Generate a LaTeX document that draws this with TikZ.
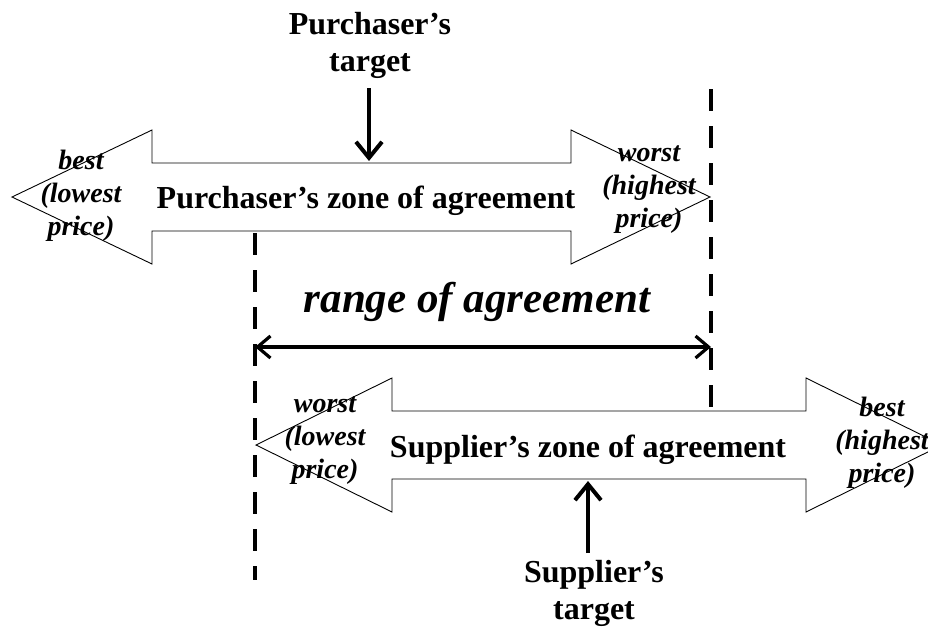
\documentclass[tikz,border=0pt]{standalone}
\usepackage{fontspec}
\setmainfont{Liberation Serif}
\usetikzlibrary{arrows.meta}
\begin{document}
\begin{tikzpicture}[x=1pt,y=-1pt,
  zone/.style={draw=black,fill=white,line width=0.9pt,line join=miter},
  zonelabel/.style={font=\fontsize{32}{36}\selectfont\bfseries,anchor=base,inner sep=0pt},
  endlabel/.style={font=\fontsize{28}{33}\selectfont\bfseries\itshape,align=center,inner sep=0pt},
  targetlabel/.style={font=\fontsize{32}{37}\selectfont\bfseries,align=center,inner sep=0pt},
  limit/.style={line width=4.5pt,dash pattern=on 22pt off 15pt},
  targetarrow/.style={line width=4pt,-{Straight Barb[length=16pt,width=26pt,line width=4pt]}},
  rangearrow/.style={line width=3.2pt,{Straight Barb[length=13pt,width=22pt,line width=3.2pt]}-{Straight Barb[length=13pt,width=22pt,line width=3.2pt]}}]
\useasboundingbox (0,0) rectangle (928,629);
\clip (0,0) rectangle (928,629);
\fill[white] (0,0) rectangle (928,629);

% purchaser's zone (double arrow)
\draw[zone] (12,197) -- (152,130) -- (152,163) -- (571,163) -- (571,130) -- (710,197)
  -- (571,264) -- (571,231) -- (152,231) -- (152,264) -- cycle;
% supplier's zone (double arrow)
\draw[zone] (256,445) -- (392,378) -- (392,411) -- (806,411) -- (806,378) -- (942,445)
  -- (806,512) -- (806,479) -- (392,479) -- (392,512) -- cycle;

% limits of the range
\coordinate (rtop) at (711,89);
\coordinate (rbot) at (711,413);
\coordinate (ltop) at (255,233);
\coordinate (lbot) at (255,580);
\draw[limit] (rtop) -- (rbot);
\draw[limit] (ltop) -- (lbot);

% labels inside the zones
\node[zonelabel] (pzone) at (366,208) {Purchaser’s zone of agreement};
\node[zonelabel] (szone) at (588,457) {Supplier’s zone of agreement};
\node[endlabel] (pbest) at (81,196) {best\\(lowest\\price)};
\node[endlabel] (pworst) at (649,190) {worst\\(highest\\price)};
\node[endlabel] (sworst) at (325,441) {worst\\(lowest\\price)};
\node[endlabel] (sbest) at (882,443) {best\\(highest\\price)};

% range of agreement
\node[font=\fontsize{43}{48}\selectfont\bfseries\itshape,anchor=base,inner sep=0pt] (range) at (477,312) {range of agreement};
\coordinate (rl) at (255,347);
\coordinate (rr) at (711,347);
\draw[rangearrow] (rl) -- (rr);

% targets
\node[targetlabel] (ptarget) at (370,45) {Purchaser’s\\target};
\coordinate (ptip) at (369,161);
\draw[targetarrow] (369,88) -- (ptip);
\node[targetlabel] (starget) at (594,593) {Supplier’s\\target};
\coordinate (stip) at (588,481);
\draw[targetarrow] (588,553) -- (stip);
\end{tikzpicture}
\end{document}
